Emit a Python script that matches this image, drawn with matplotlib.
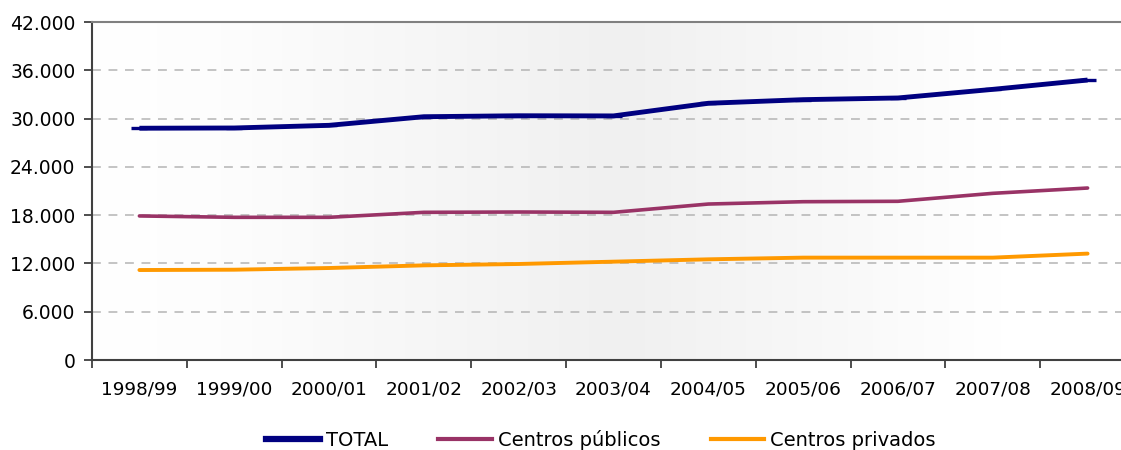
import numpy as np
import matplotlib
matplotlib.use("Agg")
import matplotlib.pyplot as plt
from matplotlib.lines import Line2D
from matplotlib.ticker import FixedLocator, FuncFormatter

# ---- data ----
cursos = ["1998/99", "1999/00", "2000/01", "2001/02", "2002/03", "2003/04",
          "2004/05", "2005/06", "2006/07", "2007/08", "2008/09"]
total = [28800, 28830, 29160, 30230, 30350, 30330, 31900, 32350, 32560, 33630, 34790]
publicos = [17900, 17730, 17730, 18350, 18390, 18350, 19380, 19670, 19720, 20710, 21370]
privados = [11180, 11220, 11430, 11760, 11930, 12220, 12510, 12720, 12720, 12720, 13220]
series_names = ["TOTAL", "Centros públicos", "Centros privados"]
y_ticks = [0, 6000, 12000, 18000, 24000, 30000, 36000, 42000]

colors = ["#000080", "#993366", "#FF9900"]
widths = [3.5, 2.6, 2.8]

plt.rcParams['font.family'] = ['DejaVu Sans']

fig = plt.figure(figsize=(11.21, 4.5), dpi=100)
ax = fig.add_axes([92/1121, 90/450, 1043/1121, 338/450])

# background gradient (white edges, light grey centre)
gx = np.linspace(0, 1, 400)
gv = np.interp(gx, [0, 0.123, 0.506, 0.871, 1], [255, 253, 240, 255, 255]) / 255.0
grad = np.stack([gv, gv, gv], axis=-1)[None, :, :]
ax.imshow(grad, extent=[0, 1, 0, 1], transform=ax.transAxes, aspect='auto', zorder=0)

x = np.arange(len(cursos))
ax.plot(x, total, color=colors[0], lw=widths[0], solid_capstyle='butt',
        solid_joinstyle='round', marker='_', markersize=12, markeredgewidth=2.4, zorder=5)
ax.plot(x, publicos, color=colors[1], lw=widths[1], solid_capstyle='round',
        solid_joinstyle='round', zorder=4)
ax.plot(x, privados, color=colors[2], lw=widths[2], solid_capstyle='round',
        solid_joinstyle='round', zorder=4)

ax.set_xlim(-0.5, len(cursos) - 0.5)
ax.set_ylim(0, 42000)

# y axis
ax.set_yticks(y_ticks)
ax.yaxis.set_major_formatter(FuncFormatter(lambda v, p: f"{int(v):,}".replace(",", ".")))
ax.tick_params(axis='y', direction='out', length=6, width=1.3, color='#404040',
               labelsize=13.5, pad=6, labelcolor='black')

# x axis: boundary ticks, centred labels
ax.xaxis.set_major_locator(FixedLocator(np.arange(-0.5, len(cursos), 1.0)))
ax.xaxis.set_major_formatter(FuncFormatter(lambda v, p: ""))
ax.xaxis.set_minor_locator(FixedLocator(x))
ax.set_xticklabels(cursos, minor=True)
ax.tick_params(axis='x', which='major', direction='out', length=6, width=1.3, color='#404040')
ax.tick_params(axis='x', which='minor', length=0, labelsize=13.3, pad=15, labelcolor='black')

# grid
ax.grid(axis='y', color='#b4b4b4', linestyle=(0, (5.8, 5.0)), linewidth=1.1, zorder=1)
ax.set_axisbelow(True)

for s in ['left', 'bottom']:
    ax.spines[s].set_color('#404040')
    ax.spines[s].set_linewidth(1.5)
ax.spines['top'].set_color('#808080')
ax.spines['top'].set_linewidth(1.5)
ax.spines['right'].set_visible(False)

handles = [Line2D([], [], color=colors[0], lw=4.5),
           Line2D([], [], color=colors[1], lw=3.0),
           Line2D([], [], color=colors[2], lw=3.0)]
fig.legend(handles, series_names, loc='center', bbox_to_anchor=(0.536, 0.022),
           ncol=3, frameon=False, fontsize=14, handlelength=2.75, handletextpad=0.3,
           columnspacing=2.6)

fig.savefig("out.png", dpi=100)
